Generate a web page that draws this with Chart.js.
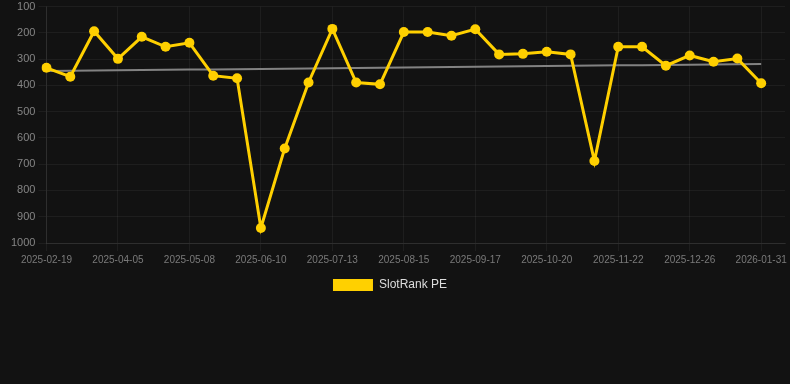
<!DOCTYPE html>
<html>
<head>
<meta charset="utf-8">
<script src="https://cdn.jsdelivr.net/npm/chart.js@4.4.1/dist/chart.umd.min.js"></script>
<style>
  html, body { margin: 0; padding: 0; background: #121212; }
  #wrap { width: 790px; height: 301px; position: relative; }
</style>
</head>
<body>
<div id="wrap"><canvas id="c"></canvas></div>
<script>
const dates = [
  '2025-02-19','2025-03-06','2025-03-21','2025-04-05','2025-04-16','2025-04-27',
  '2025-05-08','2025-05-19','2025-05-30','2025-06-10','2025-06-21','2025-07-02',
  '2025-07-13','2025-07-24','2025-08-04','2025-08-15','2025-08-26','2025-09-06',
  '2025-09-17','2025-09-28','2025-10-09','2025-10-20','2025-10-31','2025-11-11',
  '2025-11-22','2025-12-03','2025-12-15','2025-12-26','2026-01-07','2026-01-19',
  '2026-01-31','2026-02-12'
];
const rankPE = [
  333, 367, 194, 299, 215, 253, 238, 363, 373, 943, 640,
  389, 185, 389, 396, 197, 197, 211, 186, 282, 280,
  272, 282, 688, 253, 253, 325, 286, 310, 298, 392, null
];
const yTicks = [100, 200, 300, 400, 500, 600, 700, 800, 900, 1000];

// least-squares trend over the available points
const pts = rankPE.map((v, i) => [i, v]).filter(p => p[1] !== null);
const n = pts.length;
const sx = pts.reduce((a, p) => a + p[0], 0), sy = pts.reduce((a, p) => a + p[1], 0);
const sxx = pts.reduce((a, p) => a + p[0] * p[0], 0), sxy = pts.reduce((a, p) => a + p[0] * p[1], 0);
const slope = (n * sxy - sx * sy) / (n * sxx - sx * sx);
const icpt = (sy - slope * sx) / n;
const lastIdx = pts[n - 1][0];
const trend = rankPE.map((v, i) => (i <= lastIdx ? icpt + slope * i : null));

const FONT = 'Liberation Sans, Arial, sans-serif';

const legendShift = {
  id: 'legendShift',
  afterLayout(chart) {
    if (chart.legend) { chart.legend.left -= 7; chart.legend.right -= 7; }
  }
};

new Chart(document.getElementById('c'), {
  type: 'line',
  data: {
    labels: dates,
    datasets: [
      {
        label: 'SlotRank PE',
        data: rankPE,
        borderColor: '#FFD000',
        backgroundColor: '#FFD000',
        borderWidth: 3,
        pointRadius: 5,
        pointHoverRadius: 5,
        pointBorderWidth: 0,
        tension: 0,
        order: 1
      },
      {
        label: 'trend',
        data: trend,
        borderColor: 'rgba(150,150,150,0.85)',
        borderWidth: 2,
        pointRadius: 0,
        tension: 0,
        order: 2
      }
    ]
  },
  plugins: [legendShift],
  options: {
    responsive: true,
    maintainAspectRatio: false,
    animation: false,
    layout: { padding: { top: 0, right: 4, left: 8, bottom: 0 } },
    plugins: {
      legend: {
        position: 'bottom',
        labels: {
          color: '#dddddd',
          font: { family: FONT, size: 12 },
          boxWidth: 40,
          boxHeight: 12,
          generateLabels: function (chart) {
            const items = Chart.defaults.plugins.legend.labels.generateLabels(chart);
            return items.filter(it => it.text === 'SlotRank PE').map(it => Object.assign(it, { lineWidth: 0 }));
          }
        }
      },
      tooltip: { enabled: false }
    },
    scales: {
      x: {
        grid: { color: 'rgba(255,255,255,0.05)' },
        border: { color: 'rgba(255,255,255,0.08)' },
        ticks: {
          color: '#7a7a7a',
          font: { family: FONT, size: 10 },
          maxRotation: 0,
          autoSkip: false,
          callback: function (v, i) { return i % 3 === 0 && i < dates.length - 1 ? dates[i] : null; }
        }
      },
      y: {
        reverse: true,
        min: 100,
        max: 1000,
        grid: { color: 'rgba(255,255,255,0.05)' },
        border: { color: 'rgba(255,255,255,0.08)' },
        afterBuildTicks: axis => { axis.ticks = yTicks.map(v => ({ value: v })); },
        ticks: {
          color: '#858585',
          font: { family: FONT, size: 11, lineHeight: 0.65 },
          callback: v => String(v)
        }
      }
    }
  }
});
</script>
</body>
</html>
